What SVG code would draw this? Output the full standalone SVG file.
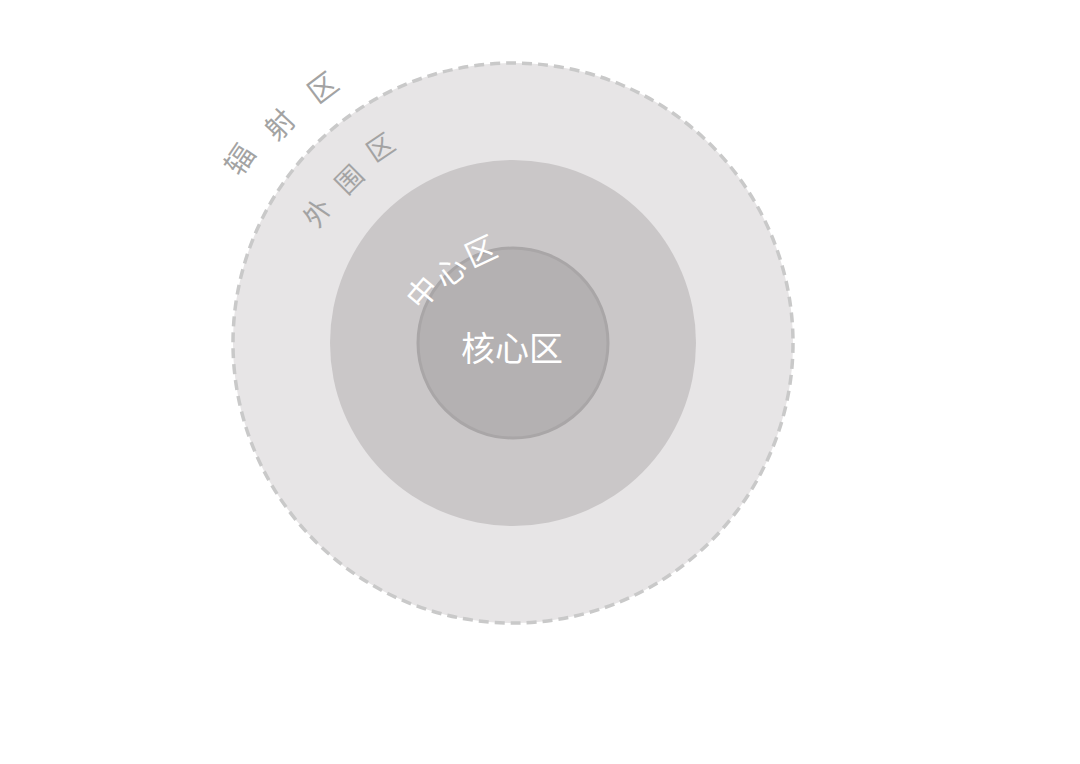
<svg xmlns="http://www.w3.org/2000/svg" width="1080" height="764" viewBox="0 0 1080 764">
<style>
.lbl{font-family:"Liberation Sans","Noto Sans CJK SC",sans-serif;text-anchor:middle;dominant-baseline:central}
.gray{fill:#a3a3a3;font-size:29px}
.gray2{fill:#a3a3a3;font-size:27px}
.white{fill:#ffffff}
</style>
<rect width="1080" height="764" fill="#ffffff"/>
<g id="radiation-zone">
<circle cx="513" cy="343" r="280" fill="#e7e5e6" stroke="#c9c9c9" stroke-width="3.5" stroke-dasharray="10 6"/>
<text class="lbl gray" transform="translate(240,160) rotate(-56)">辐</text>
<text class="lbl gray" transform="translate(280,125) rotate(-47)">射</text>
<text class="lbl gray" transform="translate(323,88) rotate(-37)">区</text>
</g>
<g id="periphery-zone">
<text class="lbl gray2" transform="translate(318,213) rotate(-56)">外</text>
<text class="lbl gray2" transform="translate(350,180) rotate(-45)">围</text>
<text class="lbl gray2" transform="translate(381,148) rotate(-34)">区</text>
</g>
<g id="center-zone">
<circle cx="513" cy="343" r="183" fill="#cac7c8"/>
</g>
<g id="core-zone">
<circle cx="513" cy="343" r="95" fill="#b4b1b2" stroke="#a9a6a7" stroke-width="3"/>
<text class="lbl white" font-size="34" x="512" y="349">核心区</text>
</g>
<g id="center-zone-label">
<text class="lbl white" font-size="31" transform="translate(423,293) rotate(-50)">中</text>
<text class="lbl white" font-size="31" transform="translate(451,272) rotate(-38)">心</text>
<text class="lbl white" font-size="31" transform="translate(481,252) rotate(-25)">区</text>
</g>
<g id="connectors"/>
</svg>
